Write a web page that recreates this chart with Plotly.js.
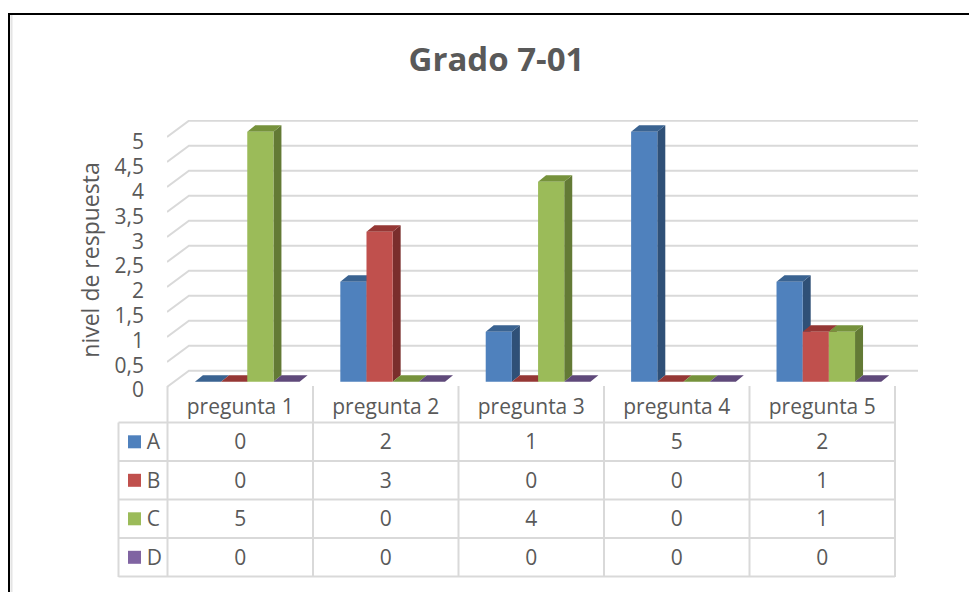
<!DOCTYPE html>
<html>
<head>
<meta charset="utf-8">
<script src="https://cdn.plot.ly/plotly-3.0.1.min.js"></script>
<style>html,body{margin:0;padding:0;background:#fff}</style>
</head>
<body>
<div id="chart" style="width:969px;height:592px"></div>
<script>
var categories = ['pregunta 1', 'pregunta 2', 'pregunta 3', 'pregunta 4', 'pregunta 5'];
var seriesNames = ['A', 'B', 'C', 'D'];
var valuesA = [0, 2, 1, 5, 2];
var valuesB = [0, 3, 0, 0, 1];
var valuesC = [5, 0, 4, 0, 1];
var valuesD = [0, 0, 0, 0, 0];
var tickValues = [0, 0.5, 1, 1.5, 2, 2.5, 3, 3.5, 4, 4.5, 5];

var W = 969, H = 592;
var px = function(v) { return v / W; };
var py = function(v) { return 1 - v / H; };

var allValues = [valuesA, valuesB, valuesC, valuesD];
var frontColors = ['#4F81BD', '#C0504D', '#9BBB59', '#8064A2'];
var topColors = ['#3A6391', '#953735', '#76923C', '#5F497A'];
var sideColors = ['#2F5077', '#7A2E2C', '#637A35', '#4F3D66'];
var grey = '#595959', lineGrey = '#D9D9D9', font = 'Open Sans, sans-serif';

// one x unit is one category = 145.4px, one y unit = 50px
var positions = categories.map(function(c, i) { return i; });
var barWidth = 0.18, depthX = 8 / 145.4, depthY = 6.5 / 50;
var wallX = -0.401, wallRight = 4.613, frontX = -0.552;
var frontY = -0.106, wallY = 0.22;

var traces = [];

// only carries the tick labels
traces.push({x: tickValues.map(function() { return frontX; }), y: tickValues, type: 'scatter', mode: 'lines',
    line: {width: 0}, xaxis: 'x', yaxis: 'y', hoverinfo: 'skip', showlegend: false});

// back wall and side wall lines
var gridX = [], gridY = [];
tickValues.forEach(function(t) {
    gridX.push(frontX, wallX, wallRight, null);
    gridY.push(t + frontY, t + wallY, t + wallY, null);
});
traces.push({x: gridX, y: gridY, type: 'scatter', mode: 'lines', xaxis: 'x', yaxis: 'y2',
    line: {color: lineGrey, width: 2}, hoverinfo: 'skip', showlegend: false});

// 3d faces, left to right so later series cover earlier ones
allValues.forEach(function(vals, k) {
    var sx = [], sy = [], tx = [], ty = [];
    vals.forEach(function(v, i) {
        var l = i + (k - 2) * barWidth, r = l + barWidth;
        if (v > 0) {
            sx.push(r, r + depthX, r + depthX, r, null);
            sy.push(0, depthY, v + depthY, v, null);
        }
        tx.push(l, l + depthX, r + depthX, r, null);
        ty.push(v, v + depthY, v + depthY, v, null);
    });
    [[sx, sy, sideColors[k]], [tx, ty, topColors[k]]].forEach(function(f) {
        traces.push({x: f[0], y: f[1], type: 'scatter', mode: 'lines', fill: 'toself',
            fillcolor: f[2], line: {width: 0, color: f[2]}, xaxis: 'x', yaxis: 'y2',
            hoverinfo: 'skip', showlegend: false});
    });
});

allValues.forEach(function(vals, k) {
    traces.push({x: positions, y: vals, name: seriesNames[k], type: 'bar',
        marker: {color: frontColors[k]}, xaxis: 'x', yaxis: 'y3', showlegend: false});
});

// data table under the chart, table holds the text and the borders are shapes
// so the text can sit a little lower in its cell
var keyCells = seriesNames.map(function(n) { return '\u00A0\u00A0\u00A0\u00A0' + n; });
var columns = [keyCells].concat(categories.map(function(c, i) {
    return allValues.map(function(vals) { return String(vals[i]); });
}));
var clear = 'rgba(0,0,0,0)';
traces.push({
    type: 'table',
    domain: {x: [px(117), px(895)], y: [py(579.5), py(390.5)]},
    columnwidth: [50.5, 145.5, 145.5, 145.5, 145.5, 145.5],
    header: {values: [''].concat(categories), height: 35, align: 'center',
        fill: {color: clear}, line: {color: clear, width: 0},
        font: {family: font, size: 21, color: grey}},
    cells: {values: columns, height: 38.5, align: ['left', 'center', 'center', 'center', 'center', 'center'],
        fill: {color: clear}, line: {color: clear, width: 0},
        font: {family: font, size: 21, color: grey}}
});

function paperLine(x0, y0, x1, y1, color, width) {
    return {type: 'line', xref: 'paper', yref: 'paper', x0: px(x0), x1: px(x1), y0: py(y0), y1: py(y1),
        line: {color: color, width: width}};
}

var shapes = [
    paperLine(9, 14, 9, 592, '#000', 2),
    paperLine(8, 14, 969, 14, '#000', 2),
    paperLine(11.5, 15, 11.5, 592, '#E4E4E4', 2)
];
[0, 1, 2, 3, 4, 5].forEach(function(i) {
    var x = 167.5 + i * 145.5;
    shapes.push(paperLine(x, 386, x, 577, lineGrey, 2));
});
shapes.push(paperLine(118.5, 422.5, 118.5, 577, lineGrey, 2));
[0, 1, 2, 3, 4].forEach(function(i) {
    var y = 422.5 + i * 38.5;
    shapes.push(paperLine(118.5, y, 895, y, lineGrey, 2));
});
// legend keys inside the table
frontColors.forEach(function(c, k) {
    var mid = 441.8 + k * 38.5;
    shapes.push({type: 'rect', xref: 'paper', yref: 'paper', x0: px(128), x1: px(141), y0: py(mid - 6.5), y1: py(mid + 6.5),
        fillcolor: c, line: {width: 0}});
});

var layout = {
    width: W, height: H,
    margin: {l: 0, r: 0, t: 0, b: 0},
    paper_bgcolor: '#fff', plot_bgcolor: 'rgba(0,0,0,0)',
    separators: ', ',
    showlegend: false,
    barmode: 'group', bargap: 0.28, bargroupgap: 0,
    title: {text: '<b>Grado 7-01</b>', x: px(496.5), y: py(59), xanchor: 'center', yanchor: 'middle',
        font: {family: font, size: 33, color: grey}},
    xaxis: {domain: [px(167), px(918)], range: [frontX, wallRight], visible: false, fixedrange: true},
    yaxis: {domain: [py(400), py(120)], range: [-0.2016, 5.444], tickmode: 'array', tickvals: tickValues,
        showgrid: false, zeroline: false, showline: false, ticks: '', ticklabelstandoff: 22,
        tickfont: {family: font, size: 21, color: grey},
        title: {text: 'nivel de respuesta', standoff: 8, font: {family: font, size: 23, color: grey}}},
    yaxis2: {domain: [py(400), py(120)], range: [-0.366, 5.234], overlaying: 'y', visible: false},
    yaxis3: {domain: [py(400), py(120)], range: [-0.366, 5.234], overlaying: 'y', visible: false},
    shapes: shapes
};

Plotly.newPlot('chart', traces, layout, {displayModeBar: false, staticPlot: true});
</script>
</body>
</html>
